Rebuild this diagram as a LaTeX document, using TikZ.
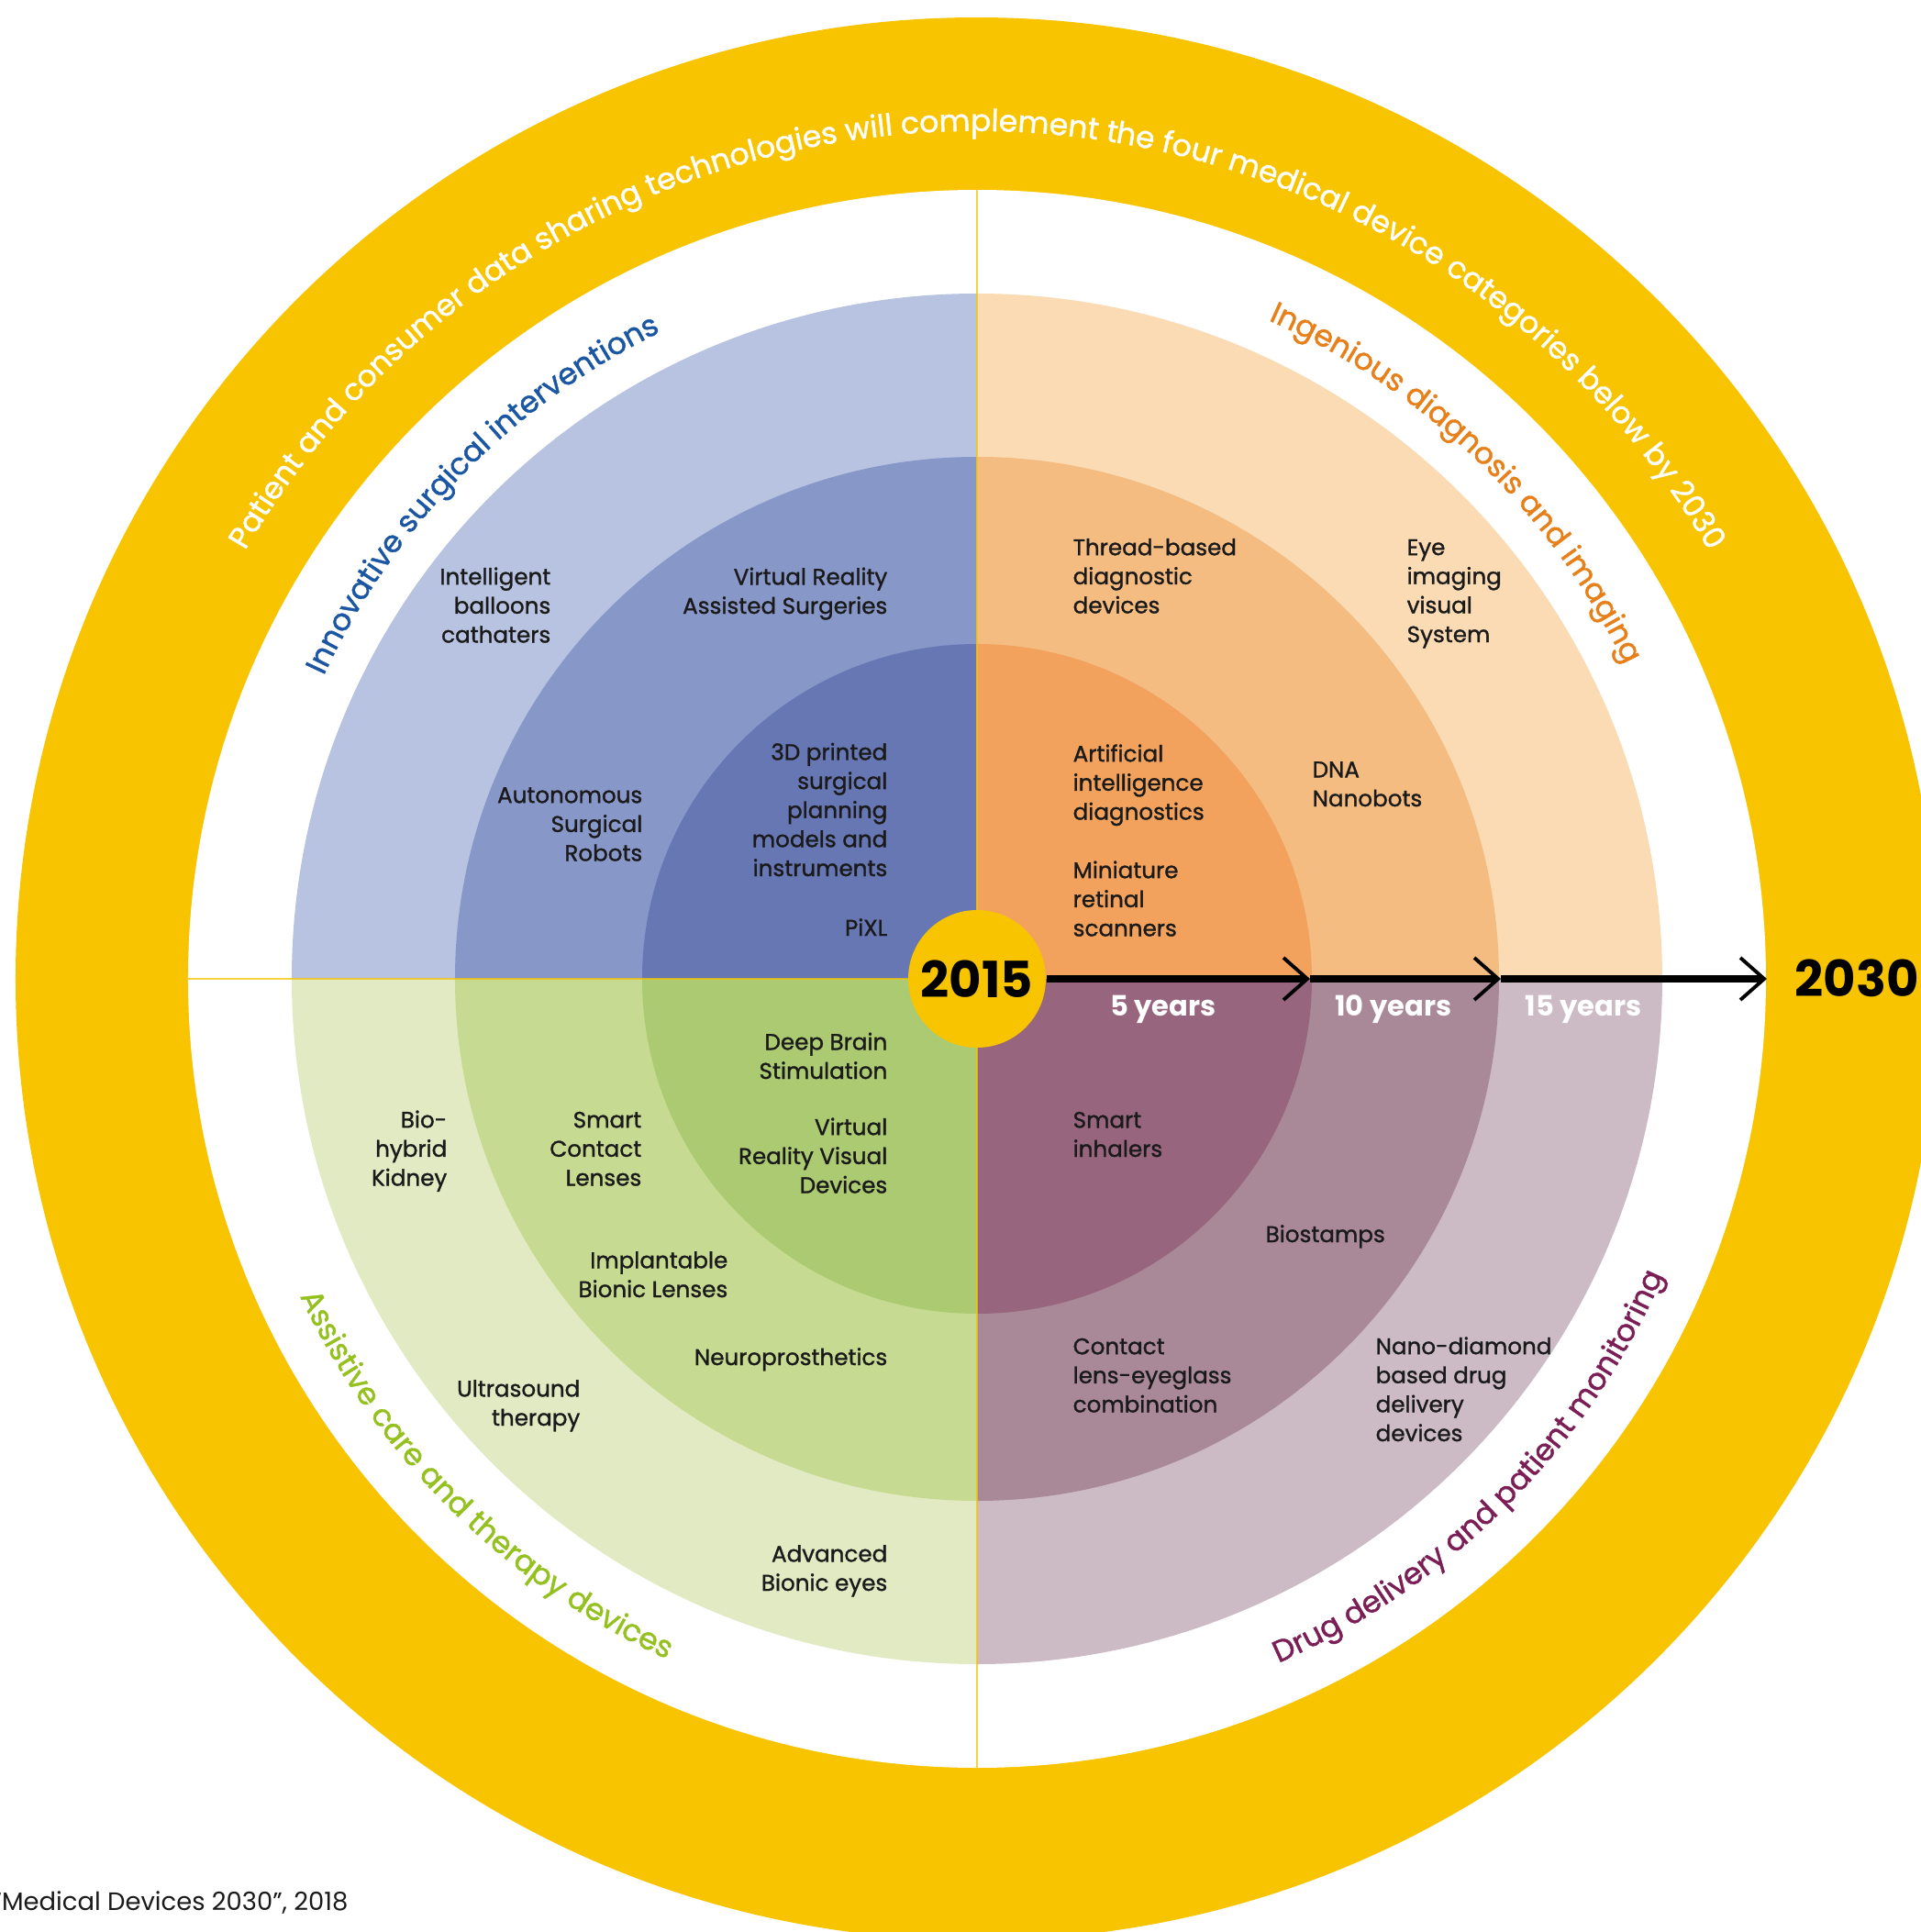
\documentclass[tikz,border=0pt]{standalone}
\usepackage{fontspec}
\setmainfont{Poppins}
\newfontfamily\heavyfamily{Poppins}[FakeBold=1.2]
\usetikzlibrary{arrows.meta,decorations.text}

\definecolor{ringyellow}{RGB}{248,196,0}
\definecolor{blueA}{RGB}{183,195,224}
\definecolor{blueB}{RGB}{135,151,200}
\definecolor{blueC}{RGB}{103,119,180}
\definecolor{orangeA}{RGB}{250,219,179}
\definecolor{orangeB}{RGB}{245,188,129}
\definecolor{orangeC}{RGB}{242,162,92}
\definecolor{plumA}{RGB}{204,187,196}
\definecolor{plumB}{RGB}{169,136,151}
\definecolor{plumC}{RGB}{151,102,126}
\definecolor{greenA}{RGB}{226,234,195}
\definecolor{greenB}{RGB}{198,218,146}
\definecolor{greenC}{RGB}{171,202,114}
\definecolor{blueTitle}{RGB}{26,86,163}
\definecolor{orangeTitle}{RGB}{232,128,26}
\definecolor{plumTitle}{RGB}{123,30,85}
\definecolor{greenTitle}{RGB}{149,193,31}
\definecolor{itemtext}{RGB}{26,26,26}

\newcommand{\itemfont}{\heavyfamily\fontsize{7}{9}\selectfont}
\newcommand{\arcfont}{\heavyfamily\fontsize{9.4}{11}\selectfont}
\newcommand{\ringfont}{\heavyfamily\fontsize{9.4}{11}\selectfont}

\begin{document}
\begin{tikzpicture}[
	leftitem/.style={anchor=base east, align=right, inner sep=0pt, text=itemtext, font=\itemfont},
	rightitem/.style={anchor=base west, align=left, inner sep=0pt, text=itemtext, font=\itemfont},
	yearlabel/.style={anchor=base, inner sep=0pt, text=white, font=\fontsize{8.7}{10}\selectfont\bfseries},
	timeline/.style={line width=2pt, -{Straight Barb[length=2.6mm, width=4.6mm, line width=1.1pt]}},
	axisline/.style={draw=ringyellow, line width=0.8pt, opacity=0.75}
	]
	% Page frame
	\clip (-10.65,-10.39) rectangle (10.29,10.67);
	\fill[white] (-10.65,-10.39) rectangle (10.29,10.67);
	% Yellow outer ring
	\fill[ringyellow] (0,0) circle (10.48);
	\fill[white] (0,0) circle (8.60);
	% Quadrant sectors (outer to inner)
	\fill[blueA] (0,0) -- (90:7.47) arc[start angle=90, end angle=180, radius=7.47] -- cycle;
	\fill[blueB] (0,0) -- (90:5.69) arc[start angle=90, end angle=180, radius=5.69] -- cycle;
	\fill[blueC] (0,0) -- (90:3.65) arc[start angle=90, end angle=180, radius=3.65] -- cycle;
	\fill[orangeA] (0,0) -- (0:7.47) arc[start angle=0, end angle=90, radius=7.47] -- cycle;
	\fill[orangeB] (0,0) -- (0:5.69) arc[start angle=0, end angle=90, radius=5.69] -- cycle;
	\fill[orangeC] (0,0) -- (0:3.65) arc[start angle=0, end angle=90, radius=3.65] -- cycle;
	\fill[plumA] (0,0) -- (-90:7.47) arc[start angle=-90, end angle=0, radius=7.47] -- cycle;
	\fill[plumB] (0,0) -- (-90:5.69) arc[start angle=-90, end angle=0, radius=5.69] -- cycle;
	\fill[plumC] (0,0) -- (-90:3.65) arc[start angle=-90, end angle=0, radius=3.65] -- cycle;
	\fill[greenA] (0,0) -- (180:7.47) arc[start angle=180, end angle=270, radius=7.47] -- cycle;
	\fill[greenB] (0,0) -- (180:5.69) arc[start angle=180, end angle=270, radius=5.69] -- cycle;
	\fill[greenC] (0,0) -- (180:3.65) arc[start angle=180, end angle=270, radius=3.65] -- cycle;
	% Dividing lines
	\draw[axisline] (0,8.60) -- (0,-8.60);
	\draw[axisline] (-8.60,0) -- (0,0);
	% Ring and quadrant titles
	\path[decorate, decoration={text along path, text align=center,
		text={|\ringfont\color{white}|Patient and consumer data sharing technologies will complement the four medical device categories below by 2030}}]
		(170:9.24) arc[start angle=170, end angle=10, radius=9.24];
	\path[decorate, decoration={text along path, text align=center,
		text={|\arcfont\color{blueTitle}|Innovative surgical interventions}}]
		(160.6:7.85) arc[start angle=160.6, end angle=110.6, radius=7.85];
	\path[decorate, decoration={text along path, text align=center,
		text={|\arcfont\color{orangeTitle}|Ingenious diagnosis and imaging}}]
		(71:7.85) arc[start angle=71, end angle=21, radius=7.85];
	\path[decorate, decoration={text along path, text align=center,
		text={|\arcfont\color{greenTitle}|Assistive care and therapy devices}}]
		(200:8.15) arc[start angle=200, end angle=250.6, radius=8.15];
	\path[decorate, decoration={text along path, text align=center,
		text={|\arcfont\color{plumTitle}|Drug delivery and patient monitoring}}]
		(-70:8.15) arc[start angle=-70, end angle=-19.6, radius=8.15];
	% Innovative surgical interventions
	\node[leftitem] (balloons) at (-4.64,3.665) {Intelligent\\balloons\\cathaters};
	\node[leftitem] (vrsurgery) at (-0.97,3.98) {Virtual Reality\\Assisted Surgeries};
	\node[leftitem] (robots) at (-3.64,1.285) {Autonomous\\Surgical\\Robots};
	\node[leftitem] (printed) at (-0.97,1.12) {3D printed\\surgical\\planning\\models and\\instruments};
	\node[leftitem] (pixl) at (-0.97,0.47) {PiXL};
	% Ingenious diagnosis and imaging
	\node[rightitem] (thread) at (1.04,3.985) {Thread-based\\diagnostic\\devices};
	\node[rightitem] (eyeimaging) at (4.68,3.67) {Eye\\imaging\\visual\\System};
	\node[rightitem] (aidiag) at (1.04,1.735) {Artificial\\intelligence\\diagnostics};
	\node[rightitem] (retinal) at (1.04,0.465) {Miniature\\retinal\\scanners};
	\node[rightitem] (nanobots) at (3.65,1.88) {DNA\\Nanobots};
	% Assistive care and therapy devices
	\node[leftitem] (deepbrain) at (-0.97,-1.09) {Deep Brain\\Stimulation};
	\node[leftitem] (vrvisual) at (-0.97,-2.335) {Virtual\\Reality Visual\\Devices};
	\node[leftitem] (kidney) at (-5.77,-2.255) {Bio-\\hybrid\\Kidney};
	\node[leftitem] (contacts) at (-3.65,-2.255) {Smart\\Contact\\Lenses};
	\node[leftitem] (bioniclens) at (-2.71,-3.47) {Implantable\\Bionic Lenses};
	\node[leftitem] (neuro) at (-0.97,-4.21) {Neuroprosthetics};
	\node[leftitem] (ultrasound) at (-4.32,-4.87) {Ultrasound\\therapy};
	\node[leftitem] (bioniceyes) at (-0.97,-6.67) {Advanced\\Bionic eyes};
	% Drug delivery and patient monitoring
	\node[rightitem] (inhalers) at (1.04,-1.94) {Smart\\inhalers};
	\node[rightitem] (biostamps) at (3.14,-2.87) {Biostamps};
	\node[rightitem] (eyeglass) at (1.04,-4.725) {Contact\\lens-eyeglass\\combination};
	\node[rightitem] (nanodiamond) at (4.34,-5.04) {Nano-diamond\\based drug\\delivery\\devices};
	% Timeline
	\node[circle, fill=ringyellow, minimum size=1.5cm, inner sep=0pt, font=\fontsize{15.5}{17}\selectfont\bfseries] (y2015) at (0,0) {2015};
	\coordinate (t5) at (3.63,0);
	\coordinate (t10) at (5.71,0);
	\coordinate (t15) at (8.61,0);
	\draw[timeline] (y2015) -- (t5);
	\draw[timeline] (t5) -- (t10);
	\draw[timeline] (t10) -- (t15);
	\node[yearlabel] (five) at (2.03,-0.40) {5 years};
	\node[yearlabel] (ten) at (4.54,-0.40) {10 years};
	\node[yearlabel] (fifteen) at (6.61,-0.40) {15 years};
	\node[anchor=base west, inner sep=0pt, font=\fontsize{15.5}{17}\selectfont\bfseries] (y2030) at (8.91,-0.19) {2030};
	% Source
	\node[anchor=base west, inner sep=0pt, text=itemtext, font=\fontsize{7.8}{9}\selectfont] (source) at (-10.74,-10.15) {“Medical Devices 2030”, 2018};
\end{tikzpicture}
\end{document}
